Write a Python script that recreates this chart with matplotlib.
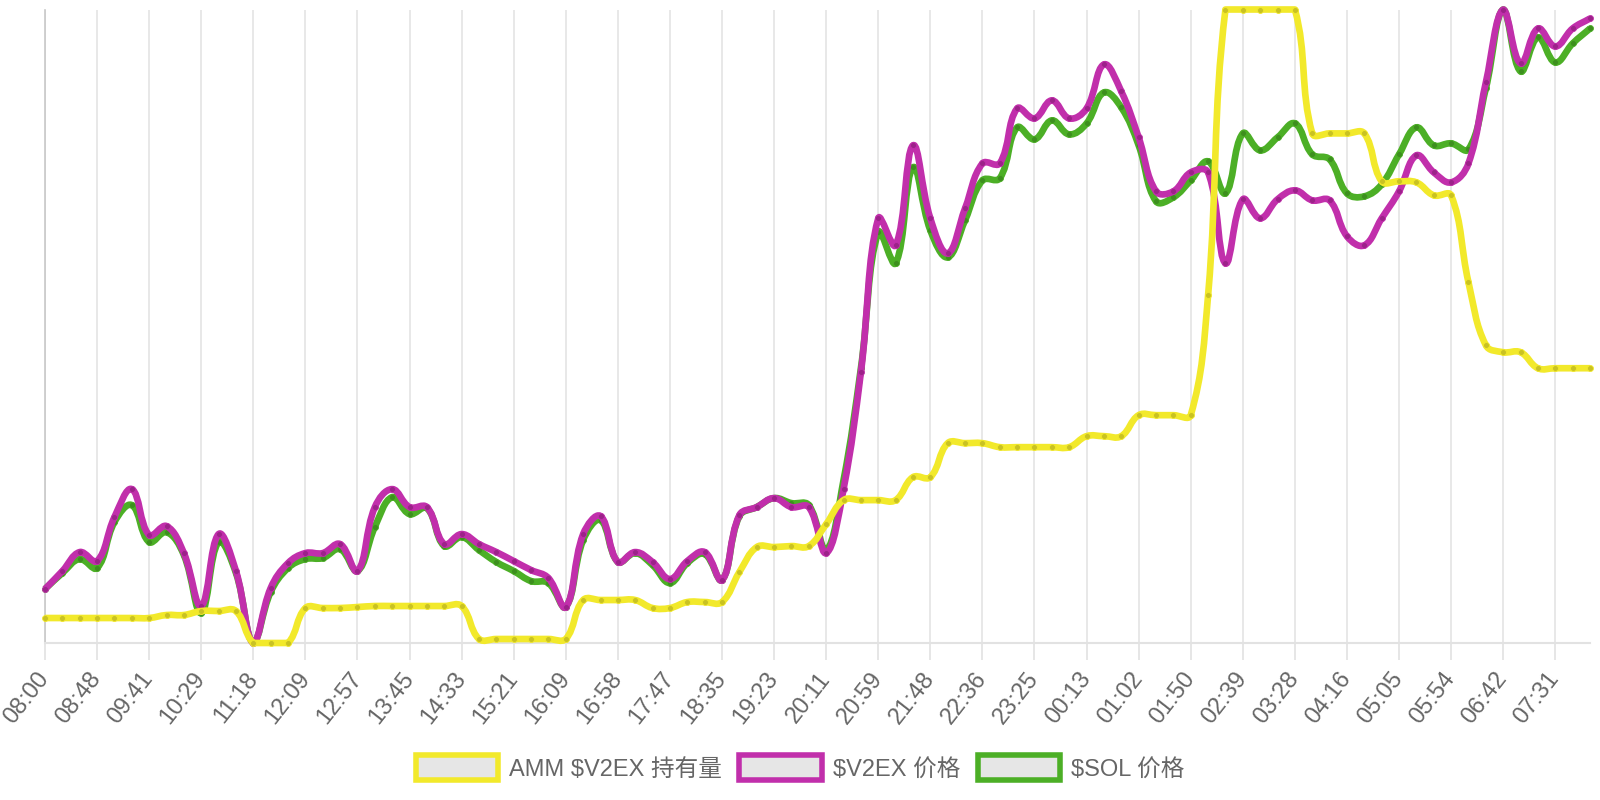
import matplotlib
matplotlib.use("Agg")
import matplotlib.pyplot as plt
import numpy as np
from matplotlib.path import Path
from matplotlib.patches import PathPatch, Patch

# values (each series has its own hidden y scale)
tick_labels = ["08:00", "08:48", "09:41", "10:29", "11:18", "12:09", "12:57", "13:45",
               "14:33", "15:21", "16:09", "16:58", "17:47", "18:35", "19:23", "20:11",
               "20:59", "21:48", "22:36", "23:25", "00:13", "01:02", "01:50", "02:39",
               "03:28", "04:16", "05:05", "05:54", "06:42", "07:31"]

amm_holding = [25, 25, 25, 25, 25, 25, 25, 28, 28, 32,
               32, 32, 0, 0, 0, 35, 35, 35, 36, 37,
               37, 37, 37, 37, 37, 4, 4, 4, 4, 4,
               4, 43, 43, 43, 43, 35, 35, 41, 41, 41,
               71, 96, 96, 97, 97, 119, 143, 143, 143, 143,
               166, 166, 200, 200, 200, 196, 196, 196, 196, 196,
               207, 207, 207, 228, 228, 228, 228, 348, 634, 634,
               634, 634, 634, 510, 510, 510, 510, 462, 462, 461,
               448, 448, 361, 298, 291, 291, 275, 275, 275, 275]

v2ex_price = [54, 72, 91, 82, 126, 154, 108, 117, 90, 37,
              109, 72, 0, 55, 80, 90, 90, 99, 72, 136,
              154, 136, 136, 99, 109, 99, 91, 82, 73, 65,
              36, 109, 127, 81, 91, 81, 64, 82, 91, 63,
              128, 136, 145, 136, 136, 90, 154, 271, 425, 398,
              498, 425, 390, 435, 480, 480, 535, 525, 543, 525,
              535, 579, 552, 506, 452, 452, 471, 471, 380, 444,
              425, 444, 453, 443, 443, 407, 398, 425, 452, 488,
              471, 461, 480, 561, 634, 580, 615, 597, 615, 625]

sol_price = [54, 70, 84, 75, 121, 138, 101, 111, 88, 30,
             101, 70, 0, 51, 75, 84, 85, 94, 72, 116,
             146, 129, 135, 97, 106, 93, 81, 72, 62, 60,
             36, 103, 123, 81, 90, 78, 60, 80, 89, 63,
             127, 136, 145, 140, 138, 93, 163, 275, 411, 380,
             476, 413, 386, 423, 463, 465, 516, 504, 523, 509,
             520, 551, 536, 498, 442, 446, 463, 482, 450, 510,
             493, 506, 520, 489, 484, 450, 447, 459, 489, 516,
             498, 500, 494, 555, 634, 572, 606, 581, 600, 615]

series = [
    ("$SOL 价格", sol_price, "#4caf26", "#3d8f1e"),
    ("$V2EX 价格", v2ex_price, "#c12fab", "#9c2289"),
    ("AMM $V2EX 持有量", amm_holding, "#f2e92b", "#c9c222"),
]
legend_order = ["AMM $V2EX 持有量", "$V2EX 价格", "$SOL 价格"]

plt.rcParams["font.family"] = ["Liberation Sans", "Noto Sans CJK SC", "DejaVu Sans"]

W, H = 1600, 800
fig = plt.figure(figsize=(16, 8), dpi=100)
ax = fig.add_axes([45 / W, 1 - 643 / H, 1545 / W, 633.5 / H])

n = len(v2ex_price)
x = np.arange(n)
ax.set_xlim(0, n - 1)
ax.set_ylim(0, 1)
ax.set_yticks([])
ax.set_xticks(x[::3])
ax.set_xticklabels(tick_labels, rotation=52, ha="right", va="center",
                   rotation_mode="anchor", fontsize=17, color="#666666")
ax.tick_params(axis="x", length=12, width=1.2, color="#e2e2e2", pad=11)
ax.grid(axis="x", color="#e4e4e4", linewidth=1.2)
for s in ["top", "right"]:
    ax.spines[s].set_visible(False)
ax.spines["bottom"].set_color("#e2e2e2")
ax.spines["bottom"].set_linewidth(1.5)
ax.spines["left"].set_color("#c8c8c8")
ax.spines["left"].set_linewidth(1.2)


def smooth_path(a, xs, ys, tension=0.4):
    # chart.js style bezier, computed in pixel space
    pts = a.transData.transform(np.column_stack([xs, ys]))
    bb = a.bbox
    m = len(pts)
    cin, cout = [], []
    for i in range(m):
        prev = pts[max(i - 1, 0)]
        cur = pts[i]
        nxt = pts[min(i + 1, m - 1)]
        d01 = np.hypot(*(cur - prev))
        d12 = np.hypot(*(nxt - cur))
        tot = d01 + d12
        fa = tension * d01 / tot if tot else 0
        fb = tension * d12 / tot if tot else 0
        c1 = cur - fa * (nxt - prev)
        c2 = cur + fb * (nxt - prev)
        c1[1] = np.clip(c1[1], bb.y0, bb.y1)
        c2[1] = np.clip(c2[1], bb.y0, bb.y1)
        cin.append(c1)
        cout.append(c2)
    verts = [pts[0]]
    codes = [Path.MOVETO]
    for i in range(1, m):
        verts += [cout[i - 1], cin[i], pts[i]]
        codes += [Path.CURVE4] * 3
    verts = a.transData.inverted().transform(np.array(verts))
    return Path(verts, codes)


for label, vals, col, dark in series:
    tw = ax.twinx()
    tw.set_ylim(min(vals), max(vals))
    tw.axis("off")
    tw.add_patch(PathPatch(smooth_path(tw, x, vals), facecolor="none",
                           edgecolor=col, linewidth=4.8, clip_on=False,
                           capstyle="butt", joinstyle="round"))
    tw.plot(x, vals, linestyle="none", marker="o", markersize=4.3,
            markerfacecolor=dark, markeredgecolor=col, markeredgewidth=0.6,
            clip_on=False)

colors = {lab: col for lab, _, col, _ in series}
handles = [Patch(facecolor="#e6e6e6", edgecolor=colors[l], linewidth=4, label=l)
           for l in legend_order]
fig.legend(handles=handles, loc="center", bbox_to_anchor=(0.5, 0.04), ncol=3,
           frameon=False, fontsize=17, labelcolor="#666666", handlelength=3.5,
           handleheight=1.25, handletextpad=0.45, columnspacing=0.75)

fig.savefig("out.png", dpi=100)
